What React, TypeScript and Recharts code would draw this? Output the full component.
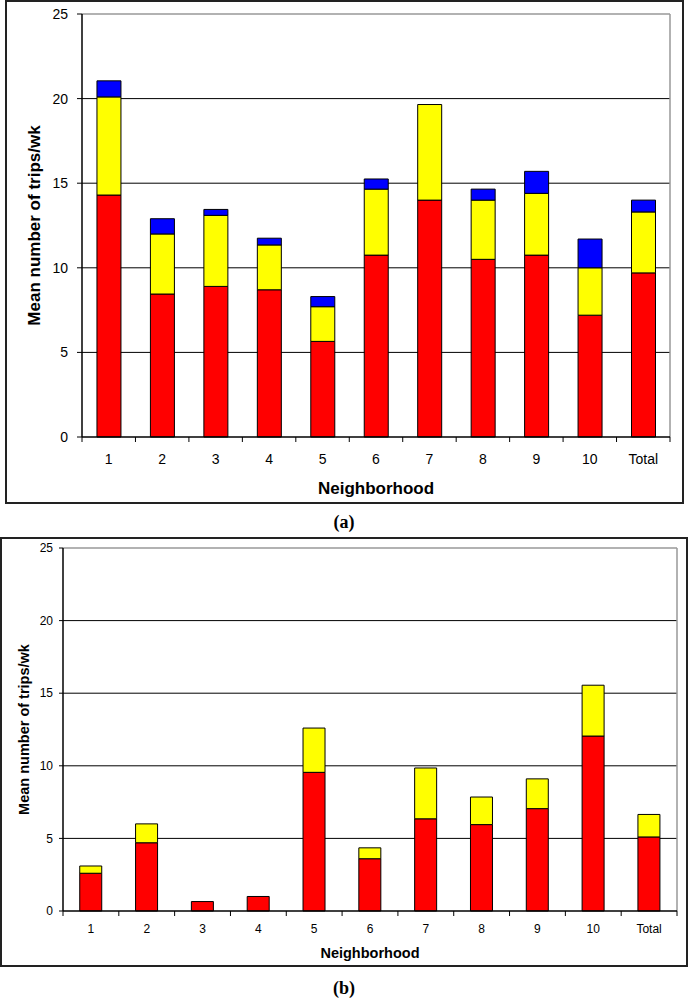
import { BarChart, Bar, XAxis, YAxis, CartesianGrid } from 'recharts'

const neighborhoods = ['1', '2', '3', '4', '5', '6', '7', '8', '9', '10', 'Total']

// panel (a)
const redA = [14.3, 8.45, 8.9, 8.7, 5.65, 10.75, 14.0, 10.5, 10.75, 7.2, 9.7]
const yellowA = [5.8, 3.55, 4.2, 2.65, 2.05, 3.9, 5.65, 3.5, 3.65, 2.8, 3.6]
const blueA = [0.95, 0.9, 0.35, 0.4, 0.6, 0.6, 0, 0.65, 1.3, 1.7, 0.7]

// panel (b)
const redB = [2.6, 4.7, 0.65, 1.0, 9.55, 3.6, 6.35, 5.95, 7.05, 12.05, 5.1]
const yellowB = [0.5, 1.3, 0, 0, 3.05, 0.75, 3.5, 1.9, 2.05, 3.5, 1.55]

const yTicks = [0, 5, 10, 15, 20, 25]
const gridValues = [5, 10, 15, 20]

const SANS = '"Liberation Sans", Arial, sans-serif'
const SERIF = '"Liberation Serif", "Times New Roman", serif'

const dataA = neighborhoods.map((n, i) => ({ n, red: redA[i], yellow: yellowA[i], blue: blueA[i] }))
const dataB = neighborhoods.map((n, i) => ({ n, red: redB[i], yellow: yellowB[i] }))

// x ticks sit on the category boundaries, label in the middle
function makeTick(fontSize: number, dy: number) {
  return (props: any) => {
    const { x, y, payload, index, visibleTicksCount, width } = props
    const half = payload.offset || width / (2 * visibleTicksCount)
    return (
      <g>
        <line x1={x - half} x2={x - half} y1={y} y2={y + 5} stroke="#000" />
        {index === visibleTicksCount - 1 && (
          <line x1={x + half} x2={x + half} y1={y} y2={y + 5} stroke="#000" />
        )}
        <text x={x} y={y + dy} textAnchor="middle" fontSize={fontSize} fontFamily={SANS} fill="#000">
          {payload.value}
        </text>
      </g>
    )
  }
}

function yTitle(dx: number, size: number) {
  return (props: any) => {
    const { x, y, height } = props.viewBox
    const cx = x + dx
    const cy = y + height / 2
    return (
      <text x={cx} y={cy} transform={`rotate(-90 ${cx} ${cy})`} textAnchor="middle" dominantBaseline="central"
        fontSize={size} fontWeight="bold" fontFamily={SANS} fill="#000">
        Mean number of trips/wk
      </text>
    )
  }
}

function xTitle(dy: number, size: number) {
  return (props: any) => {
    const { x, y, width } = props.viewBox
    return (
      <text x={x + width / 2} y={y + dy} textAnchor="middle" fontSize={size} fontWeight="bold" fontFamily={SANS} fill="#000">
        Neighborhood
      </text>
    )
  }
}

interface PanelProps {
  data: any[]
  keys: { key: string; color: string }[]
  width: number
  height: number
  margin: { top: number; right: number; bottom: number; left: number }
  yWidth: number
  gap: string
  tickFont: number
  yTickFont: number
  yTickSize: number
  yTickMargin: number
  xTickDy: number
  titleFont: number
  yTitleDx: number
  xTitleDy: number
  xHeight: number
}

function Panel(p: PanelProps) {
  return (
    <BarChart width={p.width} height={p.height} data={p.data} margin={p.margin} barCategoryGap={p.gap}>
      <CartesianGrid vertical={false} horizontalValues={gridValues} stroke="#000" strokeWidth={1} />
      <CartesianGrid
        horizontalValues={[25]}
        verticalCoordinatesGenerator={({ offset }: any) => [offset.left + offset.width]}
        stroke="#999"
        strokeWidth={1.5}
      />
      <XAxis
        dataKey="n"
        interval={0}
        tickLine={false}
        tickSize={0}
        tickMargin={0}
        height={p.xHeight}
        axisLine={{ stroke: '#000', strokeWidth: 1.5 }}
        tick={makeTick(p.tickFont, p.xTickDy)}
        label={xTitle(p.xTitleDy, p.titleFont)}
      />
      <YAxis
        domain={[0, 25]}
        ticks={yTicks}
        interval={0}
        width={p.yWidth}
        tickSize={p.yTickSize}
        tickMargin={p.yTickMargin}
        axisLine={{ stroke: '#000', strokeWidth: 1.5 }}
        tickLine={{ stroke: '#000' }}
        tick={{ fill: '#000', fontSize: p.yTickFont, fontFamily: SANS }}
        label={yTitle(p.yTitleDx, p.titleFont)}
      />
      {p.keys.map(k => (
        <Bar key={k.key} dataKey={k.key} stackId="s" fill={k.color} stroke="#000" strokeWidth={1} isAnimationActive={false} />
      ))}
    </BarChart>
  )
}

export default function App() {
  return (
    <div style={{ position: 'relative', width: 688, height: 1000, background: '#fff', overflow: 'hidden' }}>
      <style>{'body{margin:0}'}</style>

      <div style={{ position: 'absolute', left: 5, top: 0, width: 679, height: 504, border: '2px solid #222', boxSizing: 'border-box' }} />
      <div style={{ position: 'absolute', left: 0, top: 0 }}>
        <Panel
          data={dataA}
          keys={[{ key: 'red', color: '#FF0000' }, { key: 'yellow', color: '#FFFF00' }, { key: 'blue', color: '#0000FF' }]}
          width={688}
          height={520}
          margin={{ top: 14, right: 18, bottom: 23, left: 10 }}
          yWidth={72}
          gap="28%"
          tickFont={14}
          yTickFont={14}
          yTickSize={5}
          yTickMargin={9}
          xTickDy={27}
          titleFont={17}
          yTitleDx={24}
          xTitleDy={57}
          xHeight={60}
        />
      </div>
      <div style={{ position: 'absolute', left: 0, top: 511, width: 688, textAlign: 'center', fontFamily: SERIF, fontWeight: 'bold', fontSize: 18, lineHeight: '22px' }}>
        (a)
      </div>

      <div style={{ position: 'absolute', left: 0, top: 537, width: 688, height: 430, border: '2px solid #222', boxSizing: 'border-box' }} />
      <div style={{ position: 'absolute', left: 0, top: 520 }}>
        <Panel
          data={dataB}
          keys={[{ key: 'red', color: '#FF0000' }, { key: 'yellow', color: '#FFFF00' }]}
          width={688}
          height={460}
          margin={{ top: 28, right: 11, bottom: 19, left: 5 }}
          yWidth={58}
          gap="30%"
          tickFont={12}
          yTickFont={12}
          yTickSize={4}
          yTickMargin={6}
          xTickDy={21.5}
          titleFont={14.5}
          yTitleDx={19}
          xTitleDy={47}
          xHeight={50}
        />
      </div>
      <div style={{ position: 'absolute', left: 0, top: 977, width: 688, textAlign: 'center', fontFamily: SERIF, fontWeight: 'bold', fontSize: 18, lineHeight: '22px' }}>
        (b)
      </div>
    </div>
  )
}
